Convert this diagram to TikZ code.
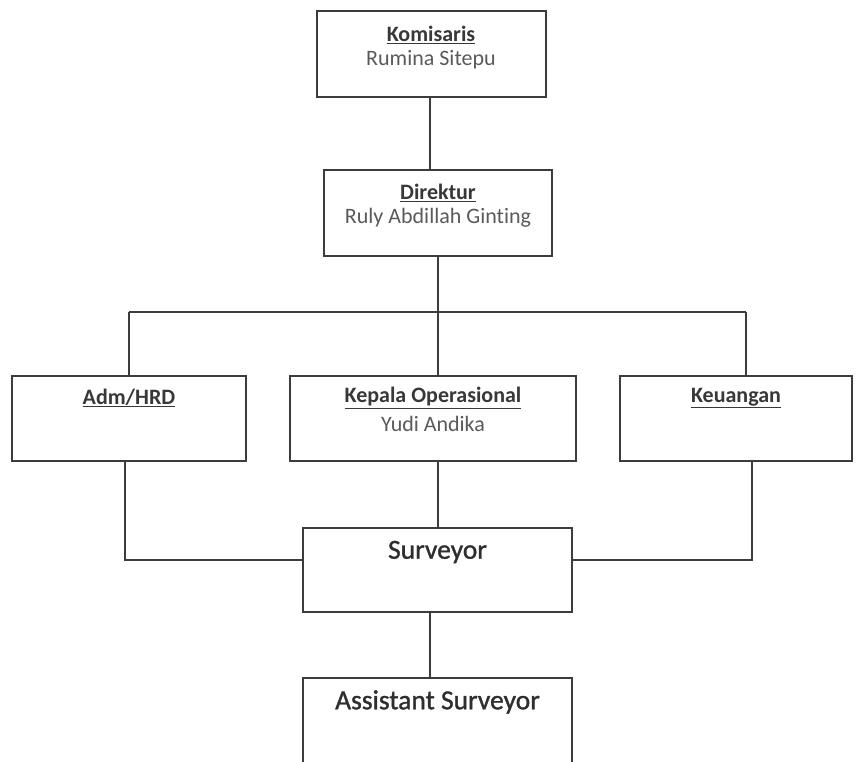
\documentclass[tikz,border=0pt]{standalone}
\usepackage{fontspec}
\setmainfont[Ligatures={NoCommon,NoDiscretionary}]{Carlito}
\newfontfamily\heavyfont[Ligatures={NoCommon,NoDiscretionary},FakeBold=1.2]{Carlito}
\definecolor{linec}{HTML}{3C3C3C}
\definecolor{titlec}{HTML}{383838}
\definecolor{namec}{HTML}{5A5A5A}
\definecolor{bigc}{HTML}{2E2E2E}
\tikzset{
  orgbox/.style={draw=linec, line width=1.4pt, fill=white, inner sep=0pt},
  link/.style={draw=linec, line width=1.4pt},
  titletext/.style={font=\fontsize{22}{26}\selectfont\bfseries, text=titlec, inner sep=0pt},
  nametext/.style={font=\fontsize{22}{26}\selectfont, text=namec, inner sep=0pt},
  bigtext/.style={font=\heavyfont\fontsize{27.5}{32}\selectfont, text=bigc, inner sep=0pt}
}
\begin{document}
\begin{tikzpicture}[x=1pt,y=-1pt]
\clip (0,0) rectangle (862,761);
\fill[white] (0,0) rectangle (862,761);
% boxes
\node[orgbox, minimum width=229pt, minimum height=86pt] (kom) at (431.5,54) {};
\node[orgbox, minimum width=228pt, minimum height=86pt] (dir) at (438,213) {};
\node[orgbox, minimum width=234pt, minimum height=85pt] (adm) at (129,418.5) {};
\node[orgbox, minimum width=286pt, minimum height=85pt] (kep) at (433,418.5) {};
\node[orgbox, minimum width=232pt, minimum height=85pt] (keu) at (736,418.5) {};
\node[orgbox, minimum width=269pt, minimum height=84pt] (sur) at (437.5,570) {};
\node[orgbox, minimum width=269pt, minimum height=110pt] (ast) at (437.5,733) {};
% texts
\node[titletext] (komT) at (431,35) {\underline{Komisaris}};
\node[nametext] (komN) at (431,60) {Rumina Sitepu};
\node[titletext] (dirT) at (438,193) {\underline{Direktur}};
\node[nametext] (dirN) at (438,218) {Ruly Abdillah Ginting};
\node[titletext] (admT) at (129,398) {\underline{Adm/HRD}};
\node[titletext] (kepT) at (433,398) {\underline{Kepala Operasional}};
\node[nametext] (kepN) at (433,424) {Yudi Andika};
\node[titletext] (keuT) at (736,398) {\underline{Keuangan}};
\node[bigtext] (surT) at (437.5,552) {Surveyor};
\node[bigtext] (astT) at (437.5,702) {Assistant Surveyor};
% connector coordinates
\coordinate (kl) at (430,0);
\coordinate (bl) at (129,312);
\coordinate (br) at (746,312);
\coordinate (bm) at (438,312);
\coordinate (al) at (125,560);
\coordinate (kr) at (752,560);
\coordinate (sa) at (430,0);
% connectors
\draw[link] (kom.south -| kl) -- (dir.north -| kl);
\draw[link] (dir.south -| bm) -- (bm);
\draw[link] (bl) -- (br);
\draw[link] (bl) -- (adm.north -| bl);
\draw[link] (bm) -- (kep.north -| bm);
\draw[link] (br) -- (keu.north -| br);
\draw[link] (kep.south -| bm) -- (sur.north -| bm);
\draw[link] (adm.south -| al) -- (al) -- (sur.west |- al);
\draw[link] (keu.south -| kr) -- (kr) -- (sur.east |- kr);
\draw[link] (sur.south -| sa) -- (ast.north -| sa);
\end{tikzpicture}
\end{document}
